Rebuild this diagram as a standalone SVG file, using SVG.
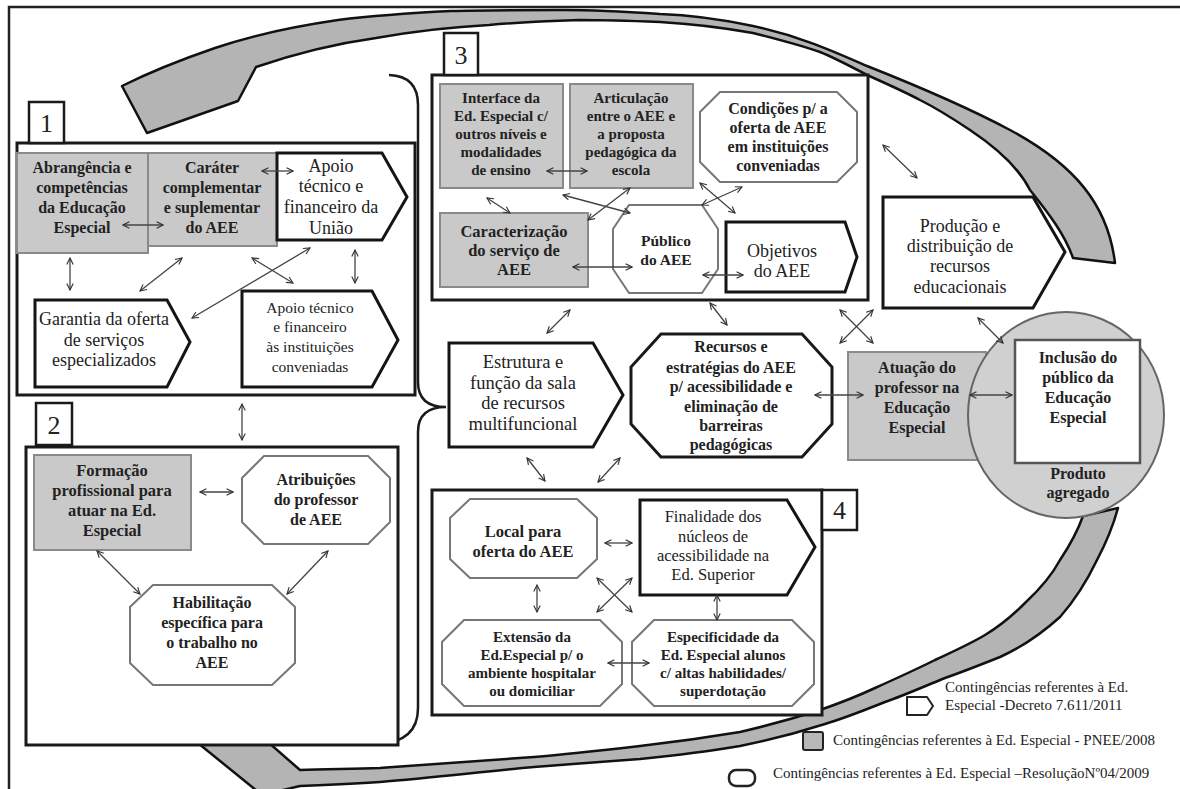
<svg xmlns="http://www.w3.org/2000/svg" width="1180" height="789" viewBox="0 0 1180 789">
<defs>
<marker id="ah" viewBox="0 0 10 10" refX="9" refY="5" markerWidth="8" markerHeight="8" markerUnits="userSpaceOnUse" orient="auto-start-reverse"><path d="M1,1 L9,5 L1,9" fill="none" stroke="#333" stroke-width="1.4"/></marker>
<style>
text{font-family:"Liberation Serif","Times New Roman",serif;fill:#222;text-anchor:middle}
.b{font-weight:bold}
.r18{font-size:18px}
.gr{fill:#c9c9c9;stroke:#8a8a8a;stroke-width:2}
.pent{fill:#fff;stroke:#151515;stroke-width:3}
.oct{fill:#fff;stroke:#777;stroke-width:2}
.octk{fill:#fff;stroke:#1a1a1a;stroke-width:3}
.cont{fill:#fff;stroke:#1a1a1a;stroke-width:3}
.lab{fill:#fff;stroke:#1a1a1a;stroke-width:2.5}
.lbl{font-size:26px}
.con line{stroke:#444;stroke-width:1.3;marker-start:url(#ah);marker-end:url(#ah)}
.band{fill:#b4b4b4;stroke:#111;stroke-width:2.5;stroke-linejoin:round}
.leg{font-size:15px;text-anchor:start}
</style>
</defs>
<rect width="1180" height="789" fill="#fff"/>
<path d="M9,789 L9,7 L1180,7" fill="none" stroke="#222" stroke-width="2.5"/>

<g id="arrow-top">
<path class="band" d="M1073,258 L1115,263 C1108,205 1075,165 1010,130 C965,106 915,85 867,66 C835,52 800,36 753,26 C720,19 690,15 660,14 C630,12 600,10 564,10 C520,10 480,10 451,11 C410,13 370,16 338,20 C290,27 250,36 215,48 C180,60 150,72 122,86 L147,133 L238,101 L256,67 C300,52 340,43 376,38 C410,32 450,27 489,25 C520,22 550,21 580,20 C610,20 635,21 660,22 C695,24 725,28 753,33 C780,40 800,45 820,52 C835,58 850,66 867,75 C885,83 905,92 920,100 C940,110 955,120 970,130 C1000,150 1020,170 1030,190 C1050,215 1065,235 1073,258 Z"/>
</g>
<g id="arrow-bottom">
<path class="band" d="M1083,516 L1118,508 C1112,530 1105,545 1097,560 C1085,585 1075,600 1060,617 C1040,635 1020,648 1000,657 C980,665 965,671 945,678 C925,686 905,695 885,702 C865,710 845,718 825,724 C800,732 770,740 740,746 C705,752 670,756 640,759 C600,762 570,764 534,767 C480,772 430,778 380,782 C350,784 325,785 300,786 L262,795 L172,722 L222,702 L300,770 C325,769 350,769 380,768 C430,764 480,761 534,757 C570,754 605,750 640,746 C675,742 710,737 740,732 C770,725 795,718 820,710 C840,703 858,696 875,688 C895,679 915,670 935,660 C952,652 970,644 985,635 C1000,626 1013,615 1025,603 C1040,589 1052,575 1060,560 C1070,545 1078,530 1083,516 Z"/>
</g>

<path id="brace" d="M389,75 Q418,76 418,105 L418,382 Q418,407 446,407 Q418,407 418,432 L418,708 Q418,742 378,744" fill="none" stroke="#1a1a1a" stroke-width="2.5"/>

<g id="box1">
<rect class="cont" x="17" y="143" width="398" height="252"/>
<rect class="lab" x="29" y="102" width="35" height="41"/>
<text class="lbl" x="46.5" y="132">1</text>
</g>
<g id="n-abrangencia">
<rect class="gr" x="17" y="153" width="131" height="100"/>
<text class="b" font-size="16" x="82"><tspan x="82" y="173">Abrangência e</tspan><tspan x="82" y="193">competências</tspan><tspan x="82" y="213">da Educação</tspan><tspan x="82" y="233">Especial</tspan></text>
</g>
<g id="n-carater">
<rect class="gr" x="148" y="153" width="129" height="93"/>
<text class="b" font-size="16"><tspan x="212" y="173">Caráter</tspan><tspan x="212" y="193">complementar</tspan><tspan x="212" y="213">e suplementar</tspan><tspan x="212" y="233">do AEE</tspan></text>
</g>
<g id="n-apoio-uniao">
<path class="pent" d="M277,153 L382,153 L407,197 L382,240 L277,240 Z"/>
<text class="r18"><tspan x="331" y="172">Apoio</tspan><tspan x="331" y="192">técnico e</tspan><tspan x="331" y="213">financeiro da</tspan><tspan x="331" y="234">União</tspan></text>
</g>
<g id="n-garantia">
<path class="pent" d="M35,300 L167,300 L190,342 L167,387 L35,387 Z"/>
<text class="r18"><tspan x="104" y="325">Garantia da oferta</tspan><tspan x="104" y="346">de serviços</tspan><tspan x="104" y="366">especializados</tspan></text>
</g>
<g id="n-apoio-inst">
<path class="pent" d="M242,291 L372,291 L398,340 L372,387 L242,387 Z"/>
<text font-size="15.5"><tspan x="310" y="313">Apoio técnico</tspan><tspan x="310" y="332">e financeiro</tspan><tspan x="310" y="352">às instituições</tspan><tspan x="310" y="372">conveniadas</tspan></text>
</g>

<g id="box2">
<rect class="cont" x="26" y="447" width="372" height="298"/>
<rect class="lab" x="36" y="403" width="36" height="42"/>
<text class="lbl" x="54" y="434">2</text>
</g>
<g id="n-formacao">
<rect class="gr" x="34" y="455" width="157" height="95"/>
<text class="b" font-size="16.5"><tspan x="112" y="476">Formação</tspan><tspan x="112" y="496">profissional para</tspan><tspan x="112" y="516">atuar na Ed.</tspan><tspan x="112" y="536">Especial</tspan></text>
</g>
<g id="n-atribuicoes">
<path class="oct" d="M264,456 L368,456 L390,478 L390,522 L368,544 L264,544 L242,522 L242,478 Z"/>
<text class="b" font-size="16"><tspan x="316" y="485">Atribuições</tspan><tspan x="316" y="505">do professor</tspan><tspan x="316" y="525">de AEE</tspan></text>
</g>
<g id="n-habilitacao">
<path class="oct" d="M153,585 L272,585 L295,607 L295,663 L272,685 L153,685 L130,663 L130,607 Z"/>
<text class="b" font-size="16"><tspan x="212" y="608">Habilitação</tspan><tspan x="212" y="628">específica para</tspan><tspan x="212" y="648">o trabalho no</tspan><tspan x="212" y="668">AEE</tspan></text>
</g>

<g id="box3">
<rect class="cont" x="432" y="75" width="436" height="225"/>
<rect class="lab" x="444" y="33" width="34" height="42"/>
<text class="lbl" x="461" y="64">3</text>
</g>
<g id="n-interface">
<rect class="gr" x="440" y="84" width="123" height="104"/>
<text class="b" font-size="15"><tspan x="501" y="103">Interface da</tspan><tspan x="501" y="121">Ed. Especial c/</tspan><tspan x="501" y="139">outros níveis e</tspan><tspan x="501" y="157">modalidades</tspan><tspan x="501" y="175">de ensino</tspan></text>
</g>
<g id="n-articulacao">
<rect class="gr" x="570" y="84" width="123" height="104"/>
<text class="b" font-size="15"><tspan x="631" y="103">Articulação</tspan><tspan x="631" y="121">entre o AEE e</tspan><tspan x="631" y="139">a proposta</tspan><tspan x="631" y="157">pedagógica da</tspan><tspan x="631" y="175">escola</tspan></text>
</g>
<g id="n-condicoes">
<path class="oct" d="M720,92 L837,92 L857,112 L857,162 L837,182 L720,182 L700,162 L700,112 Z"/>
<text class="b" font-size="16"><tspan x="778" y="114">Condições p/ a</tspan><tspan x="778" y="133">oferta de AEE</tspan><tspan x="778" y="152">em instituições</tspan><tspan x="778" y="171">conveniadas</tspan></text>
</g>
<g id="n-caracterizacao">
<rect class="gr" x="440" y="213" width="148" height="74"/>
<text class="b" font-size="16.5"><tspan x="514" y="237">Caracterização</tspan><tspan x="514" y="256">do serviço de</tspan><tspan x="514" y="275">AEE</tspan></text>
</g>
<g id="n-publico">
<path class="oct" d="M629,205 L702,205 L718,229 L718,269 L702,293 L629,293 L613,269 L613,229 Z"/>
<text class="b" font-size="15.5"><tspan x="666" y="246">Público</tspan><tspan x="666" y="265">do AEE</tspan></text>
</g>
<g id="n-objetivos">
<path class="pent" d="M726,222 L845,222 L857,257 L845,292 L726,292 Z"/>
<text class="r18"><tspan x="782" y="257">Objetivos</tspan><tspan x="782" y="277">do AEE</tspan></text>
</g>

<g id="n-producao">
<path class="pent" d="M883,197 L1033,197 L1065,252 L1033,308 L883,308 Z"/>
<text class="r18"><tspan x="960" y="232">Produção e</tspan><tspan x="960" y="252">distribuição de</tspan><tspan x="960" y="272">recursos</tspan><tspan x="960" y="293">educacionais</tspan></text>
</g>
<g id="n-estrutura">
<path class="pent" d="M449,343 L593,343 L623,395 L593,447 L449,447 Z"/>
<text font-size="18.5"><tspan x="523" y="368">Estrutura e</tspan><tspan x="523" y="389">função da sala</tspan><tspan x="523" y="409">de recursos</tspan><tspan x="523" y="430">multifuncional</tspan></text>
</g>
<g id="n-recursos">
<path class="octk" d="M661,334 L802,334 L832,367 L832,424 L802,457 L661,457 L631,424 L631,367 Z"/>
<text class="b" font-size="16"><tspan x="731" y="352">Recursos e</tspan><tspan x="731" y="373">estratégias do AEE</tspan><tspan x="731" y="392">p/ acessibilidade e</tspan><tspan x="731" y="412">eliminação de</tspan><tspan x="731" y="431">barreiras</tspan><tspan x="731" y="450">pedagógicas</tspan></text>
</g>
<g id="n-atuacao">
<rect class="gr" x="848" y="352" width="138" height="108"/>
<text class="b" font-size="16"><tspan x="917" y="373">Atuação do</tspan><tspan x="917" y="393">professor na</tspan><tspan x="917" y="413">Educação</tspan><tspan x="917" y="433">Especial</tspan></text>
</g>
<g id="n-inclusao">
<ellipse cx="1066" cy="415" rx="98" ry="103" fill="#d0d0d0" stroke="#666" stroke-width="2"/>
<rect x="1015" y="340" width="125" height="123" fill="#fff" stroke="#555" stroke-width="2.5"/>
<text class="b" font-size="16"><tspan x="1078" y="363">Inclusão do</tspan><tspan x="1078" y="383">público da</tspan><tspan x="1078" y="403">Educação</tspan><tspan x="1078" y="423">Especial</tspan></text>
<text class="b" font-size="16"><tspan x="1078" y="479">Produto</tspan><tspan x="1078" y="498">agregado</tspan></text>
</g>

<g id="box4">
<rect class="cont" x="432" y="490" width="390" height="225"/>
<rect class="lab" x="822" y="490" width="35" height="40"/>
<text class="lbl" x="839.5" y="519">4</text>
</g>
<g id="n-local">
<path class="oct" d="M470,499 L577,499 L597,518 L597,559 L577,578 L470,578 L450,559 L450,518 Z"/>
<text class="b" font-size="16.5"><tspan x="523" y="537">Local para</tspan><tspan x="523" y="557">oferta do AEE</tspan></text>
</g>
<g id="n-finalidade">
<path class="pent" d="M640,500 L787,500 L815,547 L787,595 L640,595 Z"/>
<text font-size="16.5"><tspan x="713" y="522">Finalidade dos</tspan><tspan x="713" y="542">núcleos de</tspan><tspan x="713" y="561">acessibilidade na</tspan><tspan x="713" y="580">Ed. Superior</tspan></text>
</g>
<g id="n-extensao">
<path class="oct" d="M464,620 L600,620 L622,642 L622,684 L600,706 L464,706 L442,684 L442,642 Z"/>
<text class="b" font-size="15"><tspan x="532" y="642">Extensão da</tspan><tspan x="532" y="660">Ed.Especial p/ o</tspan><tspan x="532" y="678">ambiente hospitalar</tspan><tspan x="532" y="696">ou domiciliar</tspan></text>
</g>
<g id="n-especificidade">
<path class="oct" d="M654,620 L792,620 L814,642 L814,684 L792,706 L654,706 L632,684 L632,642 Z"/>
<text class="b" font-size="15"><tspan x="723" y="642">Especificidade da</tspan><tspan x="723" y="660">Ed. Especial  alunos</tspan><tspan x="723" y="678">c/ altas habilidades/</tspan><tspan x="723" y="696">superdotação</tspan></text>
</g>

<g id="connectors" class="con">
<line x1="123" y1="225" x2="163" y2="225"/>
<line x1="262" y1="171" x2="293" y2="171"/>
<line x1="70" y1="258" x2="70" y2="290"/>
<line x1="140" y1="291" x2="182" y2="258"/>
<line x1="252" y1="258" x2="293" y2="283"/>
<line x1="310" y1="248" x2="192" y2="318"/>
<line x1="355" y1="250" x2="355" y2="283"/>
<line x1="242" y1="404" x2="242" y2="440"/>
<line x1="200" y1="492" x2="233" y2="492"/>
<line x1="97" y1="551" x2="140" y2="594"/>
<line x1="328" y1="551" x2="287" y2="594"/>
<line x1="547" y1="171" x2="587" y2="171"/>
<line x1="573" y1="267" x2="632" y2="267"/>
<line x1="703" y1="275" x2="743" y2="275"/>
<line x1="487" y1="198" x2="510" y2="213"/>
<line x1="563" y1="195" x2="630" y2="213"/>
<line x1="630" y1="188" x2="588" y2="220"/>
<line x1="700" y1="183" x2="735" y2="213"/>
<line x1="742" y1="187" x2="702" y2="205"/>
<line x1="883" y1="145" x2="917" y2="178"/>
<line x1="840" y1="310" x2="873" y2="343"/>
<line x1="873" y1="310" x2="840" y2="343"/>
<line x1="978" y1="318" x2="1003" y2="343"/>
<line x1="815" y1="395" x2="863" y2="395"/>
<line x1="970" y1="395" x2="1012" y2="395"/>
<line x1="547" y1="333" x2="570" y2="310"/>
<line x1="710" y1="303" x2="727" y2="325"/>
<line x1="527" y1="458" x2="545" y2="481"/>
<line x1="620" y1="458" x2="598" y2="482"/>
<line x1="605" y1="543" x2="632" y2="543"/>
<line x1="537" y1="585" x2="537" y2="612"/>
<line x1="597" y1="578" x2="632" y2="612"/>
<line x1="632" y1="578" x2="597" y2="612"/>
<line x1="717" y1="595" x2="717" y2="620"/>
<line x1="608" y1="663" x2="649" y2="663"/>
</g>

<g id="legend">
<path d="M907,697 L927,697 L933,706 L927,715 L907,715 Z" fill="#fff" stroke="#222" stroke-width="2" stroke-linejoin="round"/>
<text class="leg" x="945" y="692">Contingências referentes à Ed.</text>
<text class="leg" x="945" y="710">Especial -Decreto 7.611/2011</text>
<rect x="803" y="732" width="20" height="18" rx="2" fill="#b8b8b8" stroke="#222" stroke-width="2"/>
<text class="leg" x="833" y="745">Contingências referentes à Ed. Especial - PNEE/2008</text>
<rect x="729" y="770" width="26" height="16" rx="7" fill="#fff" stroke="#222" stroke-width="2.5"/>
<text class="leg" x="773" y="778">Contingências referentes à Ed. Especial –ResoluçãoNº04/2009</text>
</g>
</svg>
